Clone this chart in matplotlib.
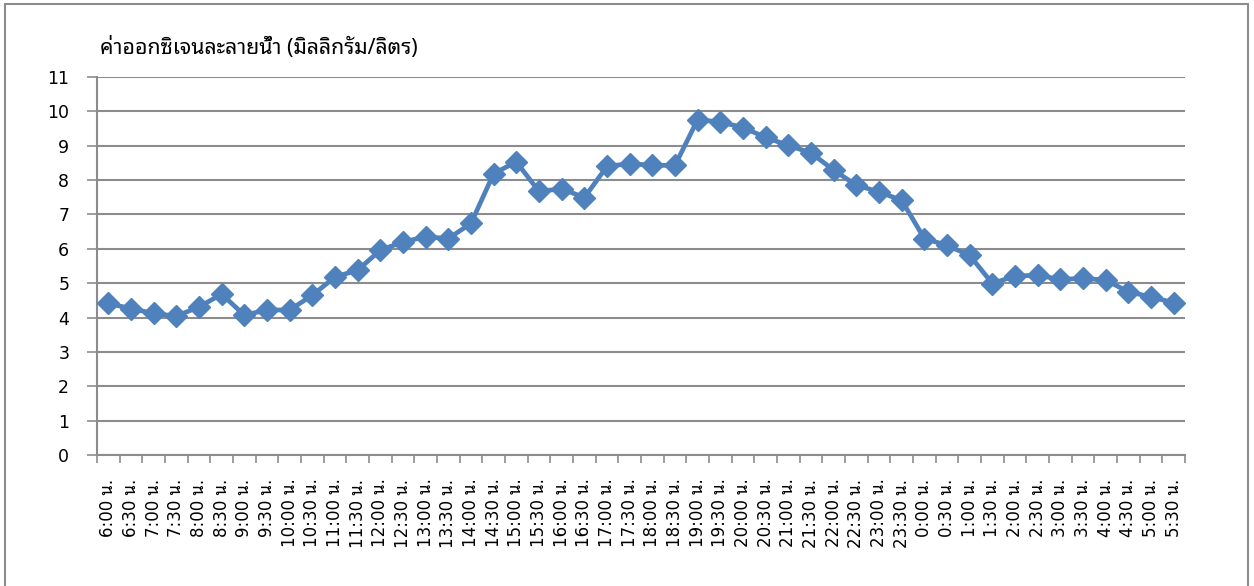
import matplotlib
matplotlib.use("Agg")
import matplotlib.pyplot as plt
from matplotlib.patches import Rectangle

# ---------------- data ----------------
times = ["6:00", "6:30", "7:00", "7:30", "8:00", "8:30", "9:00", "9:30",
         "10:00", "10:30", "11:00", "11:30", "12:00", "12:30", "13:00", "13:30",
         "14:00", "14:30", "15:00", "15:30", "16:00", "16:30", "17:00", "17:30",
         "18:00", "18:30", "19:00", "19:30", "20:00", "20:30", "21:00", "21:30",
         "22:00", "22:30", "23:00", "23:30", "0:00", "0:30", "1:00", "1:30",
         "2:00", "2:30", "3:00", "3:30", "4:00", "4:30", "5:00", "5:30"]
tick_labels = [t + " น." for t in times]
do_values = [4.41, 4.26, 4.12, 4.04, 4.31, 4.68, 4.07, 4.22,
             4.22, 4.65, 5.18, 5.38, 5.96, 6.20, 6.35, 6.30,
             6.74, 8.19, 8.53, 7.67, 7.75, 7.49, 8.40, 8.48,
             8.43, 8.43, 9.76, 9.69, 9.53, 9.24, 9.01, 8.79,
             8.29, 7.85, 7.66, 7.41, 6.30, 6.10, 5.81, 4.99,
             5.21, 5.23, 5.11, 5.14, 5.09, 4.75, 4.60, 4.43]
y_ticks = list(range(0, 12))
axis_title = "ค่าออกซิเจนละลายน้ำ (มิลลิกรัม/ลิตร)"

label_family = ["DejaVu Sans", "Noto Sans Thai Looped", "Loma"]
title_family = ["Noto Sans Thai Looped", "Loma", "DejaVu Sans"]
plt.rcParams["font.family"] = label_family

# ---------------- figure ----------------
W, H = 1254, 586
fig = plt.figure(figsize=(W / 100, H / 100), dpi=100)
ax = fig.add_axes([97 / W, 1 - 455 / H, (1185 - 97) / W, (455 - 77) / H])

x = list(range(len(do_values)))
ax.plot(x, do_values, color="#4F81BD", lw=3.4, marker="D", markersize=11,
        markerfacecolor="#4F81BD", markeredgecolor="#4F81BD", zorder=3,
        clip_on=False)

ax.set_xlim(-0.5, len(do_values) - 0.5)
ax.set_ylim(0, 11)
ax.set_yticks(y_ticks)
ax.yaxis.grid(True, color="#8C8C8C", lw=1.5)
ax.set_axisbelow(True)

ax.set_xticks(x)
ax.set_xticklabels(tick_labels, rotation=90, fontsize=12)
ax.set_xticks([i - 0.5 for i in range(len(do_values) + 1)], minor=True)
ax.tick_params(axis="x", which="major", length=0, pad=17)
ax.tick_params(axis="x", which="minor", length=6, width=1.2, color="#8C8C8C")
ax.tick_params(axis="y", length=7, width=1.2, color="#8C8C8C", labelsize=12.5, pad=13)

for s in ["top", "right"]:
    ax.spines[s].set_visible(False)
for s in ["left", "bottom"]:
    ax.spines[s].set_color("#8C8C8C")
    ax.spines[s].set_linewidth(1.5)

fig.text(100 / W, 1 - 48 / H, axis_title, fontsize=15.3, ha="left", va="center",
         family=title_family)

# outer chart border
fig.patches.append(Rectangle((4.5 / W, -0.05), (1248 - 4.5) / W, 1 - 4.5 / H + 0.05,
                             transform=fig.transFigure, fill=False,
                             edgecolor="#8C8C8C", lw=1.5))

fig.savefig("out.png", dpi=100)
